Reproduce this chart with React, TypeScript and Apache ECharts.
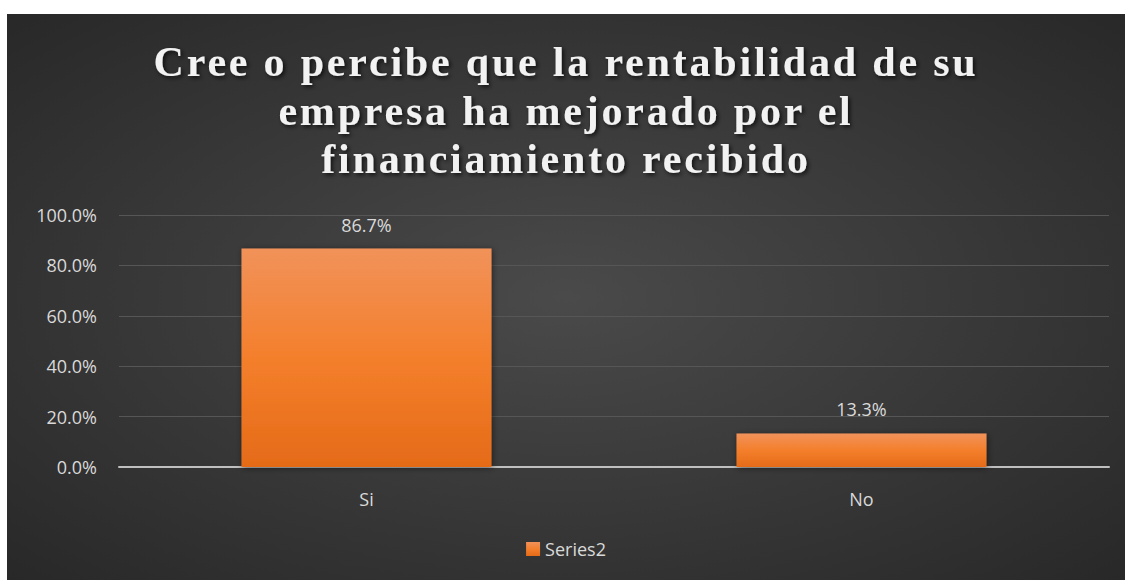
import React, { useEffect, useRef } from "react";
import * as echarts from "echarts";

const categories = ["Si", "No"];
const seriesName = "Series2";
const values = [86.7, 13.3];
const titleText = "Cree o percibe que la rentabilidad de su\nempresa ha mejorado por el\nfinanciamiento recibido";

export default function App() {
  const ref = useRef<HTMLDivElement>(null);
  useEffect(() => {
    if (!ref.current) return;
    const chart = echarts.init(ref.current, undefined, { renderer: "svg" });
    const barGrad = new echarts.graphic.LinearGradient(0, 0, 0, 1, [
      { offset: 0, color: "#f1925a" },
      { offset: 0.5, color: "#f47f2c" },
      { offset: 1, color: "#e56b18" },
    ]);
    const labelFont = "Open Sans";
    chart.setOption({
      animation: false,
      backgroundColor: new echarts.graphic.RadialGradient(0.5, 0.5, 0.75, [
        { offset: 0, color: "#4a4a4a" },
        { offset: 1, color: "#262626" },
      ]),
      title: {
        text: titleText,
        left: "center",
        top: 19,
        textStyle: {
          fontFamily: "Liberation Serif",
          fontWeight: "bold",
          fontSize: 42,
          lineHeight: 48.5,
          color: "#f2f2f2",
          textShadowColor: "rgba(0,0,0,0.7)",
          textShadowBlur: 4,
          textShadowOffsetX: 2,
          textShadowOffsetY: 2,
        },
      },
      legend: {
        data: [seriesName],
        bottom: 17,
        left: "center",
        icon: "rect",
        itemWidth: 14,
        itemHeight: 14,
        itemGap: 4,
        textStyle: { color: "#d9d9d9", fontSize: 18, fontFamily: labelFont },
      },
      grid: { left: 112, right: 16, top: 201, bottom: 113, containLabel: false },
      xAxis: {
        type: "category",
        data: categories,
        axisLine: { lineStyle: { color: "#bfbfbf", width: 2 } },
        axisTick: { show: false },
        axisLabel: { color: "#d9d9d9", fontSize: 18, margin: 23, fontFamily: labelFont },
      },
      yAxis: {
        type: "value",
        min: 0,
        max: 100,
        interval: 20,
        axisLine: { show: false },
        axisTick: { show: false },
        splitLine: { lineStyle: { color: "#565656", width: 1 } },
        axisLabel: {
          color: "#d9d9d9",
          fontSize: 18,
          margin: 22,
          fontFamily: labelFont,
          formatter: (v: number) => v.toFixed(1) + "%",
        },
      },
      series: [
        {
          name: seriesName,
          type: "bar",
          data: values,
          barWidth: "50.5%",
          itemStyle: {
            color: barGrad,
            shadowColor: "rgba(0,0,0,0.5)",
            shadowBlur: 6,
            shadowOffsetX: 1,
            shadowOffsetY: 1,
          },
          label: {
            show: true,
            position: "top",
            distance: 15,
            color: "#d9d9d9",
            fontSize: 18,
            fontFamily: labelFont,
            formatter: (p: any) => p.value.toFixed(1) + "%",
          },
        },
      ],
    });
    return () => chart.dispose();
  }, []);
  return (
    <>
      <style>{`.chartbox svg text[style*="42px"]{letter-spacing:2.8px}`}</style>
      <div
        ref={ref}
        className="chartbox"
        style={{ position: "absolute", left: 7, top: 14, width: 1118, height: 566 }}
      />
    </>
  );
}
